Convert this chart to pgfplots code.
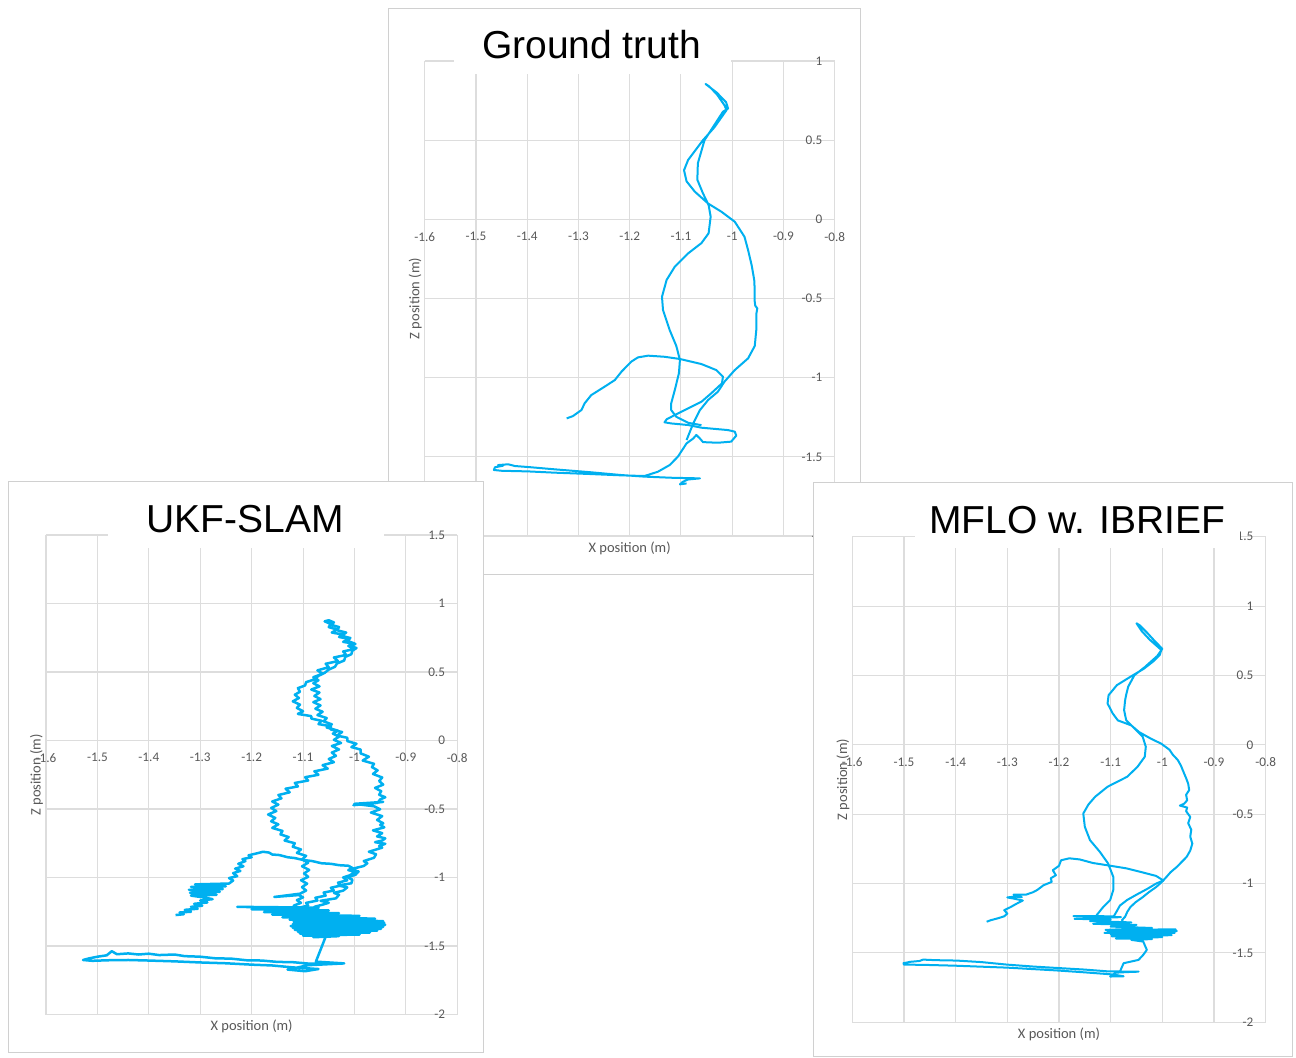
\documentclass[border=0pt]{standalone}
\usepackage{fontspec}
\setmainfont{Carlito}
\newfontfamily\titlefont{Liberation Sans}
\usepackage{pgfplots}
\pgfplotsset{compat=1.18}
\definecolor{lineblue}{HTML}{00B0F0}
\definecolor{gridgray}{HTML}{DDDDDD}
\definecolor{textgray}{HTML}{595959}
\definecolor{framegray}{HTML}{D0D0D0}
\pgfplotsset{
  panel/.style={
    scale only axis, anchor=north west,
    xmin=-1.6, xmax=-0.8,
    xtick={-1.6,-1.5,-1.4,-1.3,-1.2,-1.1,-1,-0.9,-0.8},
    xticklabels={-1.6,-1.5,-1.4,-1.3,-1.2,-1.1,-1,-0.9,-0.8},
    axis x line*=middle, axis y line*=right,
    hide obscured x ticks=false, hide obscured y ticks=false,
    axis line style={-, draw=gridgray, line width=0.55pt},
    grid=major, major grid style={draw=gridgray, line width=0.55pt},
    major tick length=0pt,
    xticklabel style={font=\fontsize{6.6}{7}\selectfont, text=textgray, yshift=-2.9pt},
    yticklabel style={font=\fontsize{6.6}{7}\selectfont, text=textgray, anchor=east, xshift=-2.6pt},
    xlabel={X position (m)}, ylabel={Z position (m)},
    every axis x label/.style={at={(rel axis cs:0.5,0)}, anchor=center, yshift=-6pt,
      font=\fontsize{7.25}{8}\selectfont, text=textgray},
    every axis y label/.style={at={(rel axis cs:0,0.5)}, xshift=-4.7pt, rotate=90, anchor=center,
      font=\fontsize{7.25}{8}\selectfont, text=textgray},
  },
  traj/.style={lineblue, line width=1pt, mark=none, line join=round},
}
\begin{document}
\begin{tikzpicture}
\useasboundingbox (0pt,0pt) rectangle (648pt,-528.5pt);
% ---------------- Ground truth panel ----------------
\filldraw[fill=white, draw=framegray, line width=0.5pt] (194pt,-4pt) rectangle (430pt,-287pt);
\begin{axis}[panel, at={(212.35pt,-30.5pt)}, width=205pt, height=237.5pt,
  ymin=-2, ymax=1, ytick={-2,-1.5,-1,-0.5,0,0.5,1},
  yticklabels={-2,-1.5,-1,-0.5,0,0.5,1}]
\addplot[traj] coordinates {
(-1.323,-1.257) (-1.311,-1.243) (-1.294,-1.204) (-1.291,-1.183) (-1.288,-1.162) (-1.275,-1.110)
(-1.249,-1.057) (-1.229,-1.015) (-1.216,-0.962) (-1.197,-0.899) (-1.184,-0.872) (-1.164,-0.861)
(-1.132,-0.868) (-1.102,-0.882) (-1.060,-0.914) (-1.031,-0.952) (-1.018,-0.994) (-1.020,-1.036)
(-1.041,-1.099) (-1.060,-1.152) (-1.086,-1.194) (-1.112,-1.236) (-1.128,-1.263) (-1.132,-1.282)
(-1.119,-1.289) (-1.086,-1.299) (-1.060,-1.316) (-1.008,-1.331) (-0.995,-1.341) (-0.992,-1.366)
(-1.002,-1.404) (-1.028,-1.411) (-1.057,-1.407) (-1.063,-1.384) (-1.070,-1.362) (-1.076,-1.384)
(-1.089,-1.415) (-1.106,-1.499) (-1.122,-1.552) (-1.145,-1.594) (-1.171,-1.621)
(-1.216,-1.617) (-1.281,-1.608) (-1.346,-1.600) (-1.398,-1.592) (-1.450,-1.588) (-1.465,-1.583)
(-1.463,-1.566) (-1.447,-1.556) (-1.457,-1.552) (-1.437,-1.547) (-1.424,-1.558) (-1.392,-1.566)
(-1.346,-1.579) (-1.281,-1.596) (-1.216,-1.615) (-1.171,-1.625) (-1.119,-1.632) (-1.063,-1.636)
(-1.086,-1.643) (-1.096,-1.657) (-1.102,-1.674) (-1.089,-1.668)
};
\addplot[traj] coordinates {
(-1.089,-1.394) (-1.076,-1.289) (-1.063,-1.205) (-1.047,-1.141) (-1.028,-1.089) (-1.015,-1.025)
(-0.995,-0.952) (-0.969,-0.878) (-0.956,-0.800) (-0.953,-0.700) (-0.953,-0.600) (-0.951,-0.562)
(-0.955,-0.545) (-0.956,-0.520) (-0.956,-0.450) (-0.957,-0.383) (-0.962,-0.290) (-0.969,-0.194)
(-0.976,-0.110) (-0.995,-0.015) (-1.021,0.048) (-1.047,0.100) (-1.073,0.175) (-1.089,0.240)
(-1.094,0.310) (-1.086,0.375) (-1.057,0.500) (-1.035,0.580) (-1.011,0.690) (-1.015,0.720)
(-1.030,0.790) (-1.045,0.840) (-1.052,0.855) (-1.048,0.845) (-1.030,0.800) (-1.012,0.740)
(-1.008,0.700) (-1.018,0.680) (-1.037,0.585) (-1.054,0.500) (-1.067,0.354) (-1.068,0.250)
(-1.057,0.164) (-1.046,0.090) (-1.042,0.017) (-1.046,-0.088) (-1.060,-0.150) (-1.086,-0.215)
(-1.112,-0.299) (-1.128,-0.383) (-1.137,-0.489) (-1.135,-0.573) (-1.122,-0.699) (-1.109,-0.800)
(-1.102,-0.889) (-1.104,-0.973) (-1.112,-1.078) (-1.119,-1.162) (-1.119,-1.205) (-1.109,-1.247)
(-1.086,-1.285) (-1.060,-1.300)
};
\end{axis}
\fill[white] (227pt,-6pt) rectangle (365.5pt,-37pt);
\node[anchor=base, font=\titlefont\fontsize{19.5}{22}\selectfont] at (295.75pt,-29pt) {Ground truth};
% ---------------- UKF-SLAM panel ----------------
\filldraw[fill=white, draw=framegray, line width=0.5pt] (4pt,-240.5pt) rectangle (241.5pt,-526pt);
\begin{axis}[panel, at={(23pt,-267.5pt)}, width=205.65pt, height=239.75pt,
  ymin=-2, ymax=1.5, ytick={-2,-1.5,-1,-0.5,0,0.5,1,1.5},
  yticklabels={-2,-1.5,-1,-0.5,0,0.5,1,1.5}]
\addplot[traj, line width=1.25pt] coordinates {
(-1.088,-1.237) (-1.070,-1.222) (-1.078,-1.214) (-1.060,-1.196) (-1.050,-1.184) (-1.066,-1.170)
(-1.036,-1.152) (-1.030,-1.126) (-1.040,-1.112) (-1.022,-1.096) (-1.014,-1.072) (-1.032,-1.058)
(-1.006,-1.042) (-1.004,-1.016) (-1.014,-0.998) (-0.998,-0.980) (-0.992,-0.956) (-1.008,-0.940)
(-0.982,-0.916) (-0.975,-0.896) (-0.982,-0.880) (-0.962,-0.856) (-0.958,-0.830) (-0.972,-0.812)
(-0.946,-0.782) (-0.952,-0.770) (-0.940,-0.754) (-0.960,-0.742) (-0.946,-0.730) (-0.940,-0.714)
(-0.956,-0.700) (-0.946,-0.676) (-0.964,-0.656) (-0.942,-0.634) (-0.950,-0.616) (-0.944,-0.604)
(-0.956,-0.580) (-0.946,-0.552) (-0.968,-0.526) (-0.950,-0.502)
(-0.962,-0.480) (-1.000,-0.462) (-0.944,-0.448) (-1.002,-0.472) (-0.955,-0.455) (-0.950,-0.430)
(-0.940,-0.414) (-0.952,-0.396) (-0.948,-0.370) (-0.960,-0.346) (-0.944,-0.322) (-0.952,-0.296)
(-0.946,-0.270) (-0.964,-0.244) (-0.955,-0.218) (-0.966,-0.194) (-0.962,-0.170) (-0.984,-0.146)
(-0.972,-0.118) (-0.988,-0.094) (-0.988,-0.066) (-1.006,-0.048) (-0.996,-0.024) (-1.014,-0.004)
(-1.014,0.020) (-1.034,0.036) (-1.024,0.062) (-1.046,0.080) (-1.046,0.104) (-1.070,0.120)
(-1.064,0.144) (-1.084,0.160) (-1.084,0.178) (-1.110,0.194) (-1.100,0.214) (-1.112,0.238)
(-1.106,0.262) (-1.120,0.286) (-1.108,0.310) (-1.116,0.334) (-1.106,0.356) (-1.110,0.382)
(-1.096,0.402) (-1.094,0.426) (-1.078,0.446) (-1.070,0.472) (-1.058,0.494) (-1.050,0.518)
(-1.038,0.538) (-1.034,0.562) (-1.020,0.584) (-1.018,0.610) (-1.006,0.630) (-1.004,0.656)
(-0.996,0.675) (-1.008,0.690) (-0.998,0.705) (-1.022,0.720) (-1.010,0.740) (-1.030,0.756)
(-1.020,0.772) (-1.044,0.788) (-1.034,0.810) (-1.050,0.828) (-1.046,0.850) (-1.058,0.870)
(-1.050,0.878) (-1.040,0.862) (-1.046,0.845) (-1.030,0.828) (-1.034,0.805) (-1.016,0.788)
(-1.026,0.765) (-1.008,0.748) (-1.014,0.728) (-1.000,0.708) (-1.012,0.690) (-1.000,0.668)
(-1.022,0.650) (-1.016,0.625) (-1.040,0.606) (-1.032,0.580) (-1.056,0.560) (-1.050,0.535)
(-1.072,0.512) (-1.062,0.488) (-1.080,0.462) (-1.070,0.440) (-1.080,0.418) (-1.068,0.395)
(-1.084,0.372) (-1.068,0.350) (-1.078,0.325) (-1.066,0.302) (-1.080,0.280) (-1.066,0.256)
(-1.076,0.232) (-1.062,0.210) (-1.072,0.186) (-1.054,0.164) (-1.060,0.140) (-1.044,0.118)
(-1.054,0.095) (-1.032,0.072) (-1.042,0.050) (-1.030,0.028) (-1.040,0.005) (-1.026,-0.018)
(-1.044,-0.040) (-1.030,-0.065) (-1.044,-0.088) (-1.036,-0.112) (-1.050,-0.135) (-1.040,-0.158)
(-1.062,-0.180) (-1.052,-0.205) (-1.078,-0.225) (-1.070,-0.250) (-1.096,-0.268) (-1.090,-0.292)
(-1.116,-0.310) (-1.110,-0.335) (-1.134,-0.352) (-1.126,-0.378) (-1.148,-0.398) (-1.142,-0.422)
(-1.160,-0.445) (-1.148,-0.468) (-1.162,-0.492) (-1.152,-0.515) (-1.168,-0.540) (-1.154,-0.565)
(-1.162,-0.590) (-1.148,-0.612) (-1.160,-0.638) (-1.140,-0.660) (-1.144,-0.685) (-1.128,-0.705)
(-1.136,-0.730) (-1.116,-0.750) (-1.120,-0.775) (-1.104,-0.795) (-1.112,-0.820) (-1.094,-0.842)
(-1.102,-0.868) (-1.090,-0.892) (-1.102,-0.918) (-1.088,-0.945) (-1.098,-0.970) (-1.090,-0.995)
(-1.104,-1.020) (-1.092,-1.045) (-1.102,-1.070) (-1.094,-1.095) (-1.106,-1.118) (-1.156,-1.142)
(-1.108,-1.128) (-1.100,-1.145) (-1.112,-1.165) (-1.104,-1.185) (-1.118,-1.205) (-1.112,-1.222)
(-1.124,-1.240)
};
\addplot[traj, line width=1.25pt] coordinates {
(-1.348,-1.274) (-1.332,-1.268) (-1.340,-1.255) (-1.318,-1.250) (-1.330,-1.236) (-1.305,-1.228)
(-1.318,-1.214) (-1.296,-1.206) (-1.312,-1.192) (-1.286,-1.182) (-1.300,-1.168) (-1.276,-1.158)
(-1.292,-1.146) (-1.318,-1.132) (-1.268,-1.126) (-1.320,-1.112) (-1.262,-1.104) (-1.322,-1.090)
(-1.256,-1.084) (-1.318,-1.068) (-1.250,-1.064) (-1.310,-1.050) (-1.244,-1.044) (-1.236,-1.022)
(-1.244,-1.004) (-1.228,-0.990) (-1.236,-0.968) (-1.222,-0.952) (-1.232,-0.935) (-1.216,-0.918)
(-1.226,-0.900) (-1.212,-0.880) (-1.218,-0.866) (-1.200,-0.852) (-1.206,-0.838) (-1.188,-0.822)
(-1.178,-0.812) (-1.166,-0.818) (-1.160,-0.832) (-1.146,-0.836) (-1.130,-0.852) (-1.116,-0.858)
(-1.100,-0.872) (-1.082,-0.880) (-1.064,-0.896) (-1.046,-0.900) (-1.030,-0.910) (-1.012,-0.914)
(-1.004,-0.930) (-1.012,-0.946) (-0.998,-0.960) (-1.010,-0.985) (-1.022,-1.000) (-1.014,-1.020)
(-1.032,-1.038) (-1.026,-1.058) (-1.046,-1.075) (-1.040,-1.095) (-1.060,-1.110) (-1.056,-1.132)
(-1.076,-1.148) (-1.072,-1.168) (-1.094,-1.185) (-1.090,-1.205) (-1.110,-1.222)
};
\addplot[traj, line width=1.25pt] coordinates {
(-1.110,-1.222) (-1.228,-1.214) (-1.070,-1.220) (-1.200,-1.232) (-1.050,-1.240) (-1.176,-1.252)
(-1.030,-1.260) (-1.160,-1.270) (-0.990,-1.280) (-1.140,-1.290) (-0.960,-1.300) (-1.126,-1.308)
(-0.944,-1.318) (-1.118,-1.324) (-0.942,-1.332) (-1.120,-1.340) (-0.940,-1.346) (-1.124,-1.354)
(-0.944,-1.360) (-1.120,-1.368) (-0.948,-1.374) (-1.116,-1.382) (-0.956,-1.388) (-1.110,-1.396)
(-0.970,-1.402) (-1.106,-1.410) (-0.990,-1.416) (-1.100,-1.424) (-1.030,-1.428) (-1.080,-1.436)
(-1.056,-1.432) (-1.075,-1.614) (-1.020,-1.627) (-1.090,-1.640) (-1.130,-1.672) (-1.096,-1.684)
(-1.070,-1.668) (-1.120,-1.656) (-1.160,-1.642) (-1.200,-1.636) (-1.250,-1.626) (-1.300,-1.620)
(-1.350,-1.612) (-1.400,-1.606) (-1.440,-1.602) (-1.480,-1.604) (-1.510,-1.608) (-1.528,-1.602)
(-1.516,-1.590) (-1.500,-1.578) (-1.482,-1.568) (-1.472,-1.538) (-1.462,-1.560) (-1.440,-1.554)
(-1.420,-1.562) (-1.400,-1.556) (-1.380,-1.566) (-1.350,-1.562) (-1.330,-1.574) (-1.300,-1.578)
(-1.270,-1.590) (-1.240,-1.592) (-1.210,-1.604) (-1.180,-1.606) (-1.150,-1.616) (-1.120,-1.618)
(-1.090,-1.628) (-1.050,-1.630) (-1.020,-1.626)
};
\end{axis}
\fill[white] (54pt,-243pt) rectangle (192pt,-274pt);
\node[anchor=base, font=\titlefont\fontsize{19.5}{22}\selectfont] at (122.5pt,-266pt) {UKF-SLAM};
% ---------------- MFLO panel ----------------
\filldraw[fill=white, draw=framegray, line width=0.5pt] (406.5pt,-241pt) rectangle (646pt,-528pt);
\begin{axis}[panel, at={(426.15pt,-268.35pt)}, width=206.7pt, height=242.8pt,
  ymin=-2, ymax=1.5, ytick={-2,-1.5,-1,-0.5,0,0.5,1,1.5},
  yticklabels={-2,-1.5,-1,-0.5,0,0.5,1,1.5}]
\addplot[traj] coordinates {
(-1.075,-1.287) (-1.078,-1.262) (-1.072,-1.239) (-1.068,-1.205) (-1.062,-1.170) (-1.052,-1.135)
(-1.038,-1.098) (-1.026,-1.062) (-1.012,-1.025) (-1.002,-0.992) (-0.992,-0.952) (-0.984,-0.918)
(-0.972,-0.880) (-0.962,-0.842) (-0.953,-0.808) (-0.946,-0.762) (-0.942,-0.712) (-0.946,-0.662)
(-0.944,-0.612) (-0.950,-0.565) (-0.946,-0.520) (-0.954,-0.478) (-0.952,-0.452) (-0.966,-0.438)
(-0.958,-0.425) (-0.952,-0.400) (-0.954,-0.360) (-0.948,-0.326) (-0.950,-0.280) (-0.954,-0.240)
(-0.958,-0.205) (-0.964,-0.150) (-0.970,-0.110) (-0.980,-0.070) (-0.986,-0.036) (-1.002,0.008)
(-1.022,0.044) (-1.045,0.092) (-1.060,0.140) (-1.086,0.176) (-1.096,0.226) (-1.106,0.298)
(-1.104,0.358) (-1.088,0.430) (-1.062,0.490) (-1.036,0.548) (-1.018,0.600) (-1.005,0.648)
(-1.002,0.684) (-1.016,0.730) (-1.024,0.756) (-1.040,0.820) (-1.050,0.876) (-1.044,0.862)
(-1.030,0.810) (-1.014,0.745) (-1.000,0.692) (-1.010,0.640) (-1.034,0.560) (-1.054,0.502)
(-1.066,0.420) (-1.070,0.360) (-1.072,0.322) (-1.074,0.250) (-1.070,0.178) (-1.054,0.118)
(-1.038,0.058) (-1.032,-0.014) (-1.034,-0.086) (-1.048,-0.158) (-1.068,-0.230) (-1.106,-0.302)
(-1.130,-0.374) (-1.143,-0.430) (-1.153,-0.495) (-1.150,-0.591) (-1.140,-0.687) (-1.121,-0.771)
(-1.105,-0.855) (-1.095,-0.951) (-1.095,-1.047) (-1.101,-1.119) (-1.114,-1.167) (-1.127,-1.227)
(-1.130,-1.251)
};
\addplot[traj] coordinates {
(-1.340,-1.275) (-1.332,-1.264) (-1.318,-1.250) (-1.306,-1.236) (-1.300,-1.216) (-1.306,-1.192)
(-1.294,-1.170) (-1.282,-1.145) (-1.270,-1.122) (-1.288,-1.108) (-1.300,-1.100) (-1.286,-1.094)
(-1.272,-1.098) (-1.288,-1.080) (-1.264,-1.080) (-1.250,-1.062) (-1.242,-1.046) (-1.230,-1.012)
(-1.214,-0.988) (-1.216,-0.962) (-1.206,-0.940) (-1.212,-0.904) (-1.200,-0.872) (-1.196,-0.832)
(-1.180,-0.818) (-1.160,-0.826) (-1.134,-0.852) (-1.120,-0.860) (-1.100,-0.872) (-1.070,-0.890)
(-1.044,-0.914) (-1.012,-0.945) (-0.998,-0.978) (-1.012,-1.000) (-1.030,-1.040) (-1.050,-1.080)
(-1.068,-1.118) (-1.082,-1.158) (-1.088,-1.198) (-1.094,-1.236)
};
\addplot[traj] coordinates {
(-1.094,-1.236) (-1.172,-1.234) (-1.080,-1.242) (-1.170,-1.254) (-1.100,-1.260) (-1.140,-1.270)
(-1.060,-1.280) (-1.134,-1.290) (-1.050,-1.298) (-1.100,-1.310) (-1.020,-1.320) (-1.110,-1.334)
(-0.974,-1.330) (-1.106,-1.346) (-0.972,-1.342) (-1.112,-1.356) (-0.976,-1.356) (-1.100,-1.366)
(-0.982,-1.372) (-1.098,-1.380) (-1.000,-1.386) (-1.090,-1.396) (-1.020,-1.400) (-1.060,-1.406)
(-1.037,-1.418) (-1.030,-1.478) (-1.037,-1.514) (-1.046,-1.550) (-1.075,-1.574) (-1.082,-1.634)
(-1.046,-1.634) (-1.090,-1.642) (-1.101,-1.670) (-1.075,-1.668) (-1.096,-1.655) (-1.150,-1.640)
(-1.205,-1.626) (-1.300,-1.606) (-1.400,-1.592) (-1.460,-1.586) (-1.500,-1.584) (-1.501,-1.574)
(-1.488,-1.564) (-1.470,-1.558) (-1.463,-1.548) (-1.440,-1.552) (-1.398,-1.555) (-1.350,-1.566)
(-1.301,-1.584) (-1.250,-1.598) (-1.205,-1.608) (-1.150,-1.620) (-1.108,-1.632) (-1.050,-1.636)
};
\end{axis}
\fill[white] (457.5pt,-243pt) rectangle (620pt,-274pt);
\node[anchor=base, font=\titlefont\fontsize{19.5}{22}\selectfont] at (538.75pt,-266.5pt) {MFLO w. IBRIEF};
\end{tikzpicture}
\end{document}
